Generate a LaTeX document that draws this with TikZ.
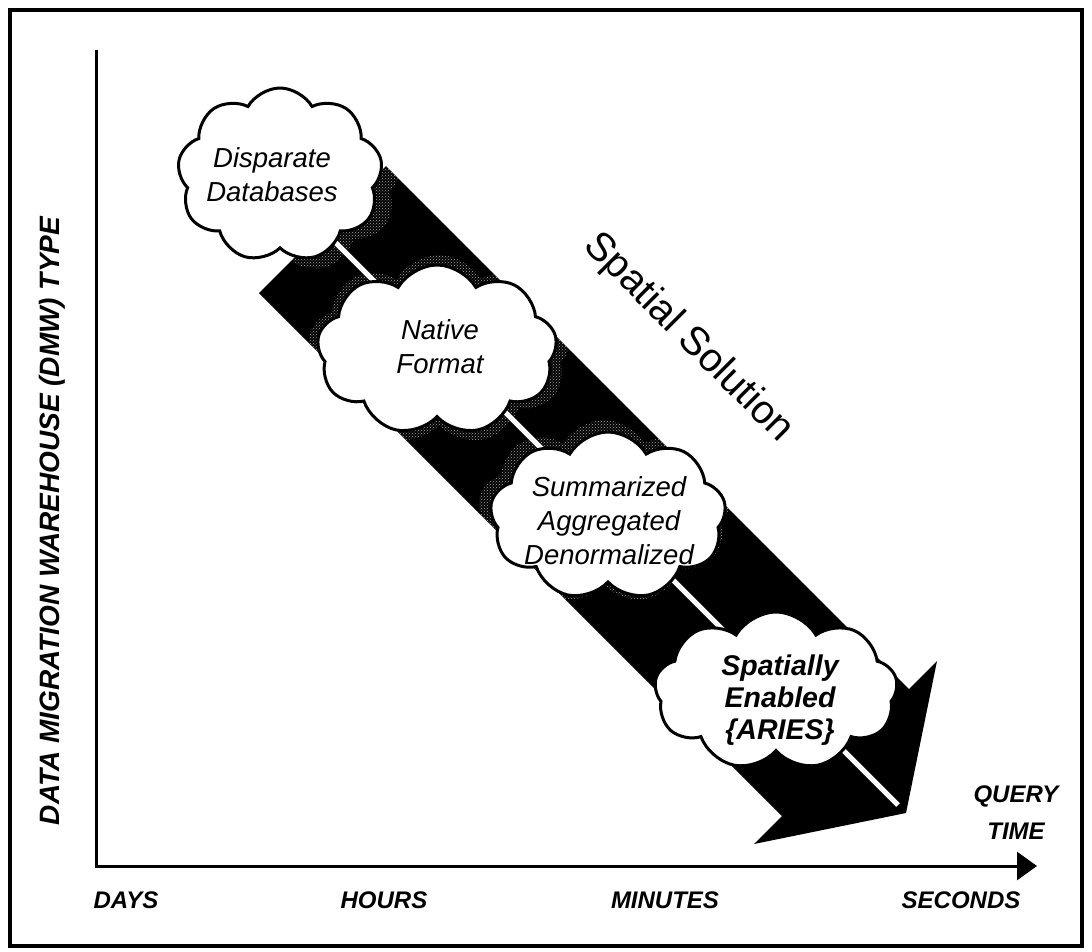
\documentclass[tikz,border=0pt]{standalone}
\usepackage{fontspec}
\setmainfont{Liberation Sans}
\usetikzlibrary{shapes.symbols,arrows.meta,patterns}
\begin{document}
\begin{tikzpicture}[x=1pt,y=-1pt,
  cloudbox/.style={cloud, cloud puffs=9, cloud puff arc=120, cloud ignores aspect,
    draw=black, line width=3pt, fill=white, inner sep=0pt},
  cloudhalo/.style={cloud, cloud puffs=9, cloud puff arc=120, cloud ignores aspect,
    draw=none, inner sep=0pt, pattern=crosshatch dots, pattern color=black!35},
  cloudtext/.style={align=center, font=\fontsize{27.5}{34}\selectfont\itshape},
  boldcloudtext/.style={align=center, font=\fontsize{28.5}{32}\selectfont\bfseries\itshape},
  axislabel/.style={align=center, font=\fontsize{24}{37}\selectfont\bfseries\itshape},
]
\useasboundingbox (0,0) rectangle (1092,951);

% outer frame
\draw[line width=4pt] (10,10) rectangle (1082,946);

% broad arrow running from the first stage to the last
\def\bigarrowpath{(386,166) -- (909,689) -- (937,661) -- (906,813) -- (754,844)
  -- (782,816) -- (259,293) -- cycle}
\fill[black] \bigarrowpath;

% grainy shading where the arrow meets the upper stages
\begin{scope}
  \clip \bigarrowpath;
  \node[cloudhalo, minimum width=229pt, minimum height=190pt] at (286,178) {};
  \node[cloudhalo, minimum width=262pt, minimum height=190pt] at (439,350) {};
  \node[cloudhalo, minimum width=252pt, minimum height=184pt] at (604,512) {};
\end{scope}

\draw[white, line width=5pt] (330,237) -- (898,805);

% stages
\node[cloudbox, minimum width=205pt, minimum height=174pt] (c1) at (280,175) {};
\node[cloudtext] (t1) at (272,175) {Disparate\\Databases};

\node[cloudbox, minimum width=240pt, minimum height=170pt] (c2) at (437,350) {};
\node[cloudtext] (t2) at (440,347) {Native\\Format};

\node[cloudbox, minimum width=236pt, minimum height=168pt] (c3) at (608,516) {};
\node[cloudtext] (t3) at (609,521) {Summarized\\Aggregated\\Denormalized};

\node[cloudbox, minimum width=243pt, minimum height=158pt] (c4) at (776,691) {};
\node[boldcloudtext] (t4) at (780,700) {Spatially\\Enabled\\\{ARIES\}};

% title along the arrow
\node[rotate=-45, font=\fontsize{40}{40}\selectfont] (sol) at (688,338) {Spatial Solution};

% axes
\coordinate (ytop) at (96,50);
\coordinate (origin) at (96,866);
\coordinate (xend) at (1037,866);
\draw[line width=3pt, -{Triangle[length=20pt,width=28pt]}] (ytop) -- (origin) -- (xend);

\node[rotate=90, font=\fontsize{28}{28}\selectfont\bfseries\itshape] (ylab) at (52,521)
  {DATA MIGRATION WAREHOUSE (DMW) TYPE};
\node[axislabel] (qt) at (1016,813) {QUERY\\TIME};

\node[axislabel] (days) at (126,900) {DAYS};
\node[axislabel] (hours) at (384,900) {HOURS};
\node[axislabel] (minutes) at (665,900) {MINUTES};
\node[axislabel] (seconds) at (961,900) {SECONDS};
\end{tikzpicture}
\end{document}
